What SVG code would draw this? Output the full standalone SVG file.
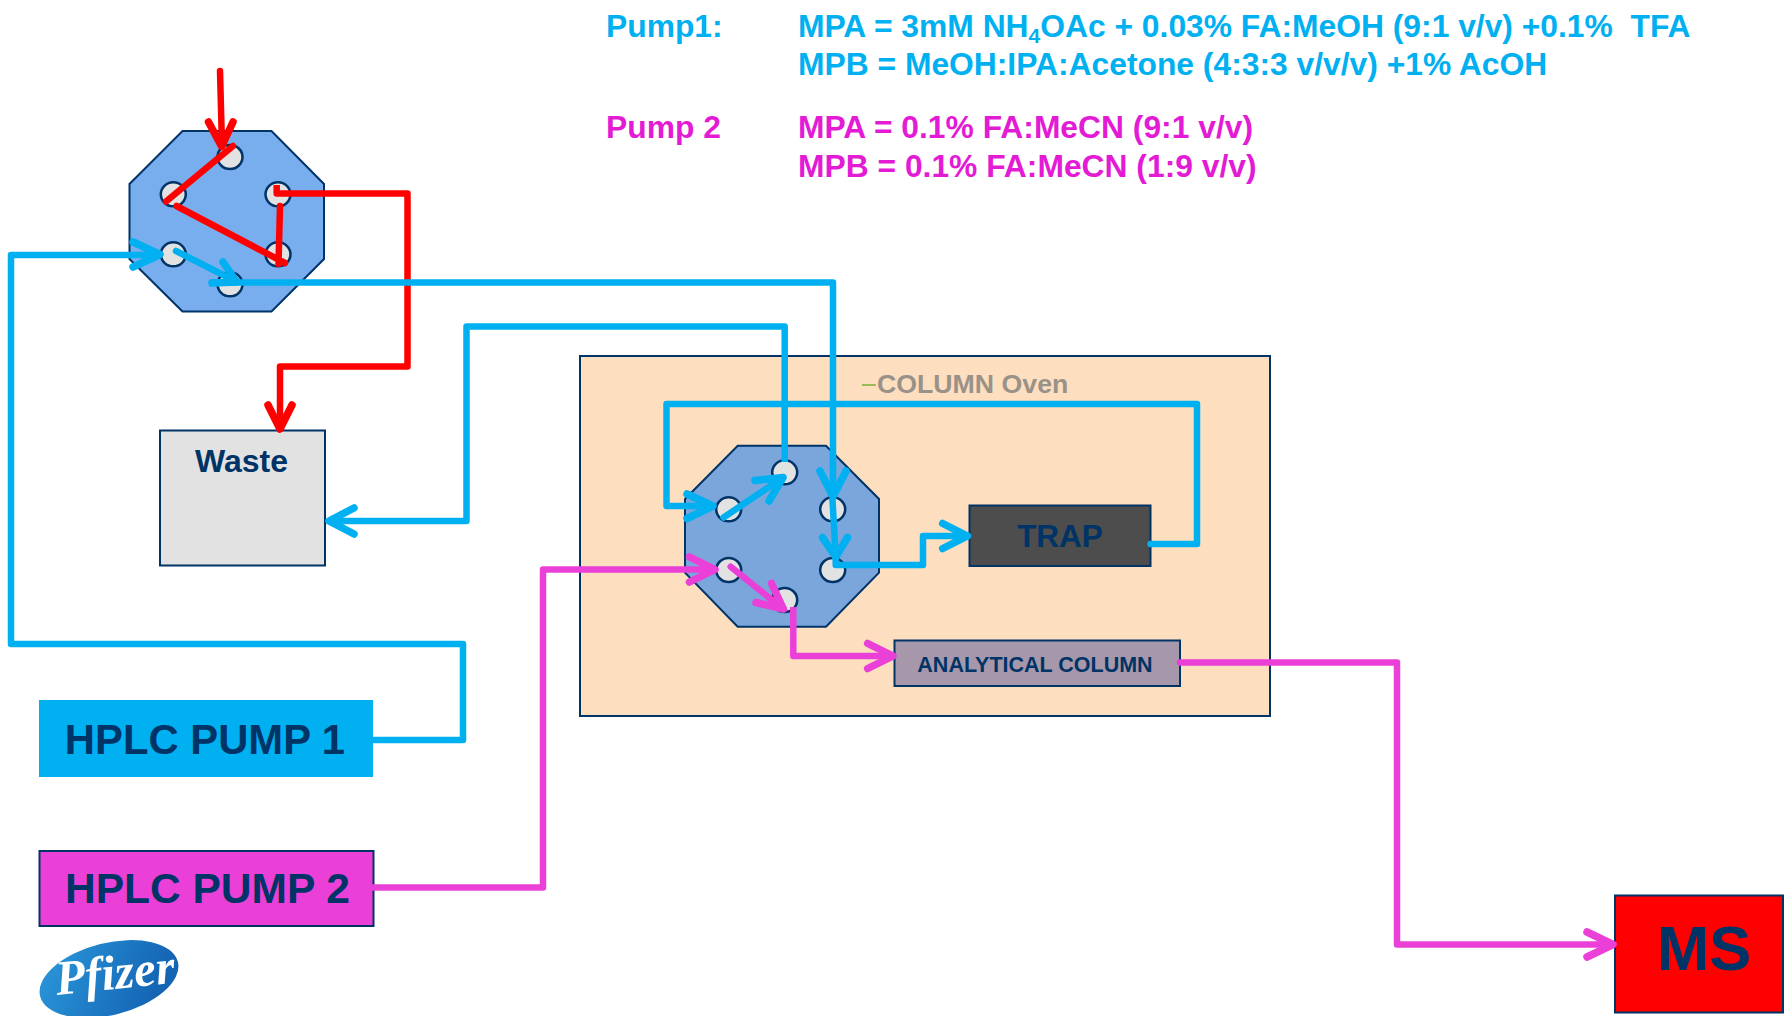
<svg xmlns="http://www.w3.org/2000/svg" width="1784" height="1016" viewBox="0 0 1784 1016">
<style>
text{font-family:"Liberation Sans",Arial,sans-serif;font-weight:700}
.oct{stroke:#003366;stroke-width:2}
.hole{fill:#E2E2E2;stroke:#003366;stroke-width:2.5}
.box{stroke:#003366;stroke-width:2}
.c{fill:none;stroke-width:6.5;stroke-linejoin:round;stroke-linecap:round}
.w{stroke-width:7.5}
.r{stroke:#FF0000}.b{stroke:#00B0F0}.p{stroke:#EA40D8}
.t{fill:#003366;text-anchor:middle}
.cy{fill:#00B0F0;font-size:31.8px}.mg{fill:#E31BD5;font-size:31.8px}
</style>
<defs><linearGradient id="lg" x1="0" y1="0" x2="1" y2="0.4"><stop offset="0" stop-color="#2C9ADB"/><stop offset="1" stop-color="#1464B4"/></linearGradient></defs>
<rect width="1784" height="1016" fill="#fff"/>
<g id="oven"><rect class="box" x="580" y="356" width="690" height="360" fill="#FDDFC0"/>
<path d="M862 385H876" stroke="#9BBB59" stroke-width="2" fill="none"/>
<text x="877" y="393" font-size="26.700" fill="#9A9188">COLUMN Oven</text></g>
<g id="valve1"><polygon class="oct" fill="#78ADEE" points="182.5,131 271.5,131 324,184 324,259 271.5,311.5 182.5,311.5 129.5,259 129.5,184"/>
<ellipse class="hole" cx="230" cy="157" rx="12.5" ry="12"/><ellipse class="hole" cx="173.300" cy="194.300" rx="12.500" ry="12"/><ellipse class="hole" cx="278" cy="194.300" rx="12.500" ry="12"/><ellipse class="hole" cx="278" cy="254.300" rx="12.500" ry="12"/><ellipse class="hole" cx="173.300" cy="254.300" rx="12.500" ry="12"/><ellipse class="hole" cx="230" cy="284.300" rx="12.500" ry="12"/></g>
<g id="valve2"><polygon class="oct" fill="#7AA6DC" points="737.7,445.7 826,445.7 879,499 879,572.7 826,626.7 737.7,626.7 685,572.7 685,499"/>
<ellipse class="hole" cx="784.700" cy="472.300" rx="12.500" ry="12"/><ellipse class="hole" cx="728.700" cy="509.300" rx="12.500" ry="12"/><ellipse class="hole" cx="832.700" cy="509.300" rx="12.500" ry="12"/><ellipse class="hole" cx="832.700" cy="570" rx="12.500" ry="12"/><ellipse class="hole" cx="728.700" cy="570" rx="12.500" ry="12"/><ellipse class="hole" cx="784.700" cy="600" rx="12.500" ry="12"/></g>
<g id="waste"><rect class="box" x="160" y="430.500" width="165" height="135" fill="#E2E2E2"/><text class="t" x="241.500" y="472" font-size="32">Waste</text></g>
<g id="trap"><rect class="box" x="969.500" y="505.500" width="181" height="60.500" fill="#4D4D4D"/><text class="t" x="1060" y="547" font-size="31.500">TRAP</text></g>
<g id="analytical"><rect class="box" x="894.500" y="640.500" width="285.500" height="45.500" fill="#A698AA"/><text class="t" x="1035" y="672" font-size="21.500">ANALYTICAL COLUMN</text></g>
<g id="pump1"><rect x="39" y="700" width="334" height="77" fill="#00B0F0"/><text class="t" x="205" y="754" font-size="41.800">HPLC PUMP 1</text></g>
<g id="pump2"><rect class="box" x="39.500" y="851" width="334" height="75" fill="#EA40D8"/><text class="t" x="207.500" y="903" font-size="42.500">HPLC PUMP 2</text></g>
<g id="ms"><rect class="box" x="1615" y="895.500" width="168" height="117" fill="#FF0000"/><text class="t" x="1704" y="970" font-size="63">MS</text></g>
<g id="logo"><ellipse cx="109" cy="979" rx="71" ry="36" transform="rotate(-14 109 979)" fill="url(#lg)"/>
<text x="57" y="995" font-size="49" fill="#fff" transform="rotate(-6 57 995)" style="font-family:'Liberation Serif',serif;font-style:italic">Pfizer</text></g>
<g id="connectors">
<path class="c r" d="M220 71L222 146M233 146L166 201.500M176.500 206L285 263M280 206L278.500 264"/><path class="c r w" d="M208.500 122L221.700 146.500L233 122"/>
<path class="c r" style="stroke-linecap:butt" d="M276.700 185V193.500H407.500V366.500H280V428"/><path class="c r w" d="M268 405L280 429L292 405"/>
<path class="c b" d="M373 740H463V644H11V255H158"/><path class="c b w" d="M133 242L160 254.500L133 267"/>
<path class="c b" d="M176 251L237 282M212 282.500H833V496"/><path class="c b w" d="M223 262L236.700 282L212 283M820 471L833 496.500L846 471"/>
<path class="c b" d="M832.500 500L835.700 556"/><path class="c b w" d="M822.500 537.500L835.700 557L847.500 537.500"/>
<path class="c b" style="stroke-linecap:butt" d="M835.700 558V565H923V536H966"/><path class="c b w" d="M942.700 523.500L967.500 536L942.700 548.500"/>
<path class="c b" style="stroke-linecap:butt" d="M784.700 462V326.500H466.500V521H331"/><path class="c b w" d="M354 508L329 521L354 534"/>
<path class="c b" d="M1150.500 544H1197V404H666.500V506H711"/><path class="c b w" d="M687 494L713 506L687 518.500"/>
<path class="c b" d="M723.500 517.500L783 477.500"/><path class="c b w" d="M755 480.500L783 477.500L769 501"/>
<path class="c p" d="M373 887.500H543V569.500H713"/><path class="c p w" d="M689.500 557L715 569.500L689.500 582"/>
<path class="c p" d="M730.700 566.700L783 609"/><path class="c p w" d="M771.500 583.500L783.500 609L756 602.500"/>
<path class="c p" style="stroke-linecap:butt" d="M793.300 607V656H891"/><path class="c p w" d="M867.700 643.500L893 656L867.700 668.500"/>
<path class="c p" d="M1180 662.500H1397V944.500H1611"/><path class="c p w" d="M1587 932L1613 944.500L1587 957"/>
</g>
<g id="legend">
<text class="cy" x="606" y="37">Pump1:</text>
<text class="cy" x="798" y="37">MPA = 3mM NH<tspan font-size="21" dy="6">4</tspan><tspan dy="-6">OAc + 0.03% FA:MeOH (9:1 v/v) +0.1%&#160; TFA</tspan></text>
<text class="cy" x="798" y="75">MPB = MeOH:IPA:Acetone (4:3:3 v/v/v) +1% AcOH</text>
<text class="mg" x="606" y="138">Pump 2</text>
<text class="mg" x="798" y="138">MPA = 0.1% FA:MeCN (9:1 v/v)</text>
<text class="mg" x="798" y="177">MPB = 0.1% FA:MeCN (1:9 v/v)</text>
</g>
</svg>
